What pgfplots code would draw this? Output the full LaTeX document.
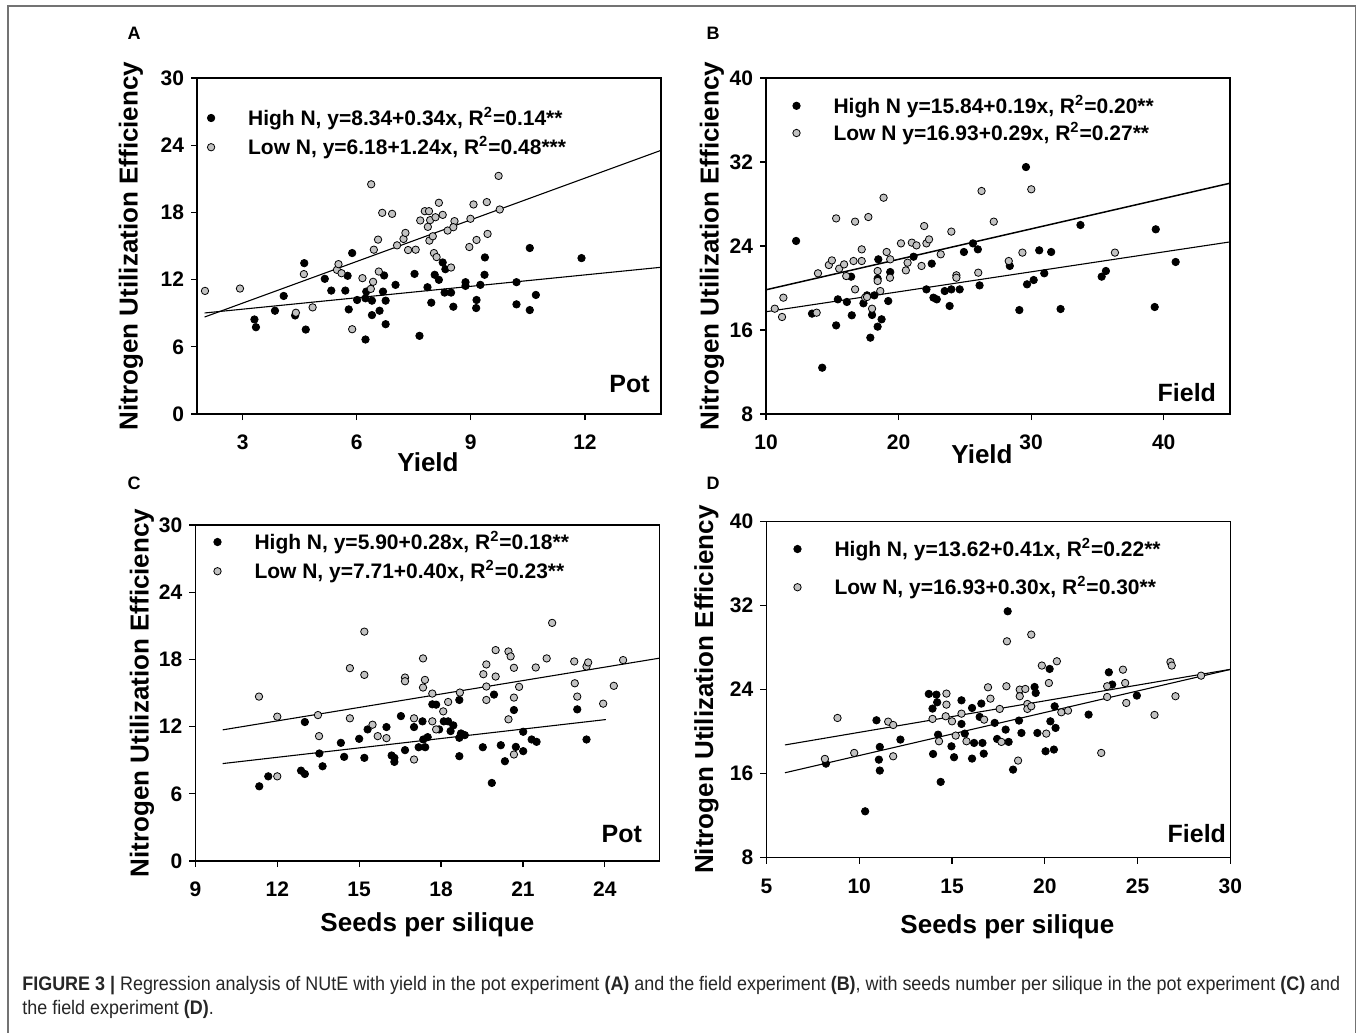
\documentclass[border=0pt]{standalone}
\usepackage{pgfplots}
\pgfplotsset{compat=1.18}
\usepackage{fontspec}
\setmainfont{Liberation Sans}
\newfontfamily\capfont[FakeStretch=0.915]{Liberation Sans}

\definecolor{lowgray}{gray}{0.76}
\definecolor{framegray}{gray}{0.45}

\pgfplotsset{
  nue/.style={
    scale only axis, width=232pt, height=168pt,
    axis line style={black, line width=0.6pt},
    tick align=outside, xtick pos=bottom, ytick pos=left,
    major tick length=3pt, tick style={black, line width=0.6pt},
    /pgf/number format/assume math mode=true,
    tick label style={font=\fontsize{10.5}{12}\selectfont\bfseries},
    xticklabel style={yshift=-4pt},
    legend style={draw=none, fill=none, font=\fontsize{10.5}{12}\selectfont\bfseries,
      anchor=north west, at={(0,1)}},
    legend cell align=left,
    legend image code/.code={\path[draw=none,fill=none] (0pt,0pt) -- (16.5pt,0pt); \draw[##1] plot coordinates {(0pt,0pt)};},
  },
  ylab/.style={every axis y label/.style={at={([xshift=#1]axis description cs:0,0.5)}, rotate=90, anchor=center,
    font=\fontsize{13}{15}\selectfont\bfseries}},
  xlab/.style 2 args={every axis x label/.style={at={([xshift=#1,yshift=#2]axis description cs:0.5,0)}, anchor=base,
    font=\fontsize{13}{15}\selectfont\bfseries}},
  high/.style={only marks, mark=*, mark size=1.85pt, mark options={fill=black, draw=black}},
  low/.style={only marks, mark=*, mark size=1.85pt, mark options={fill=lowgray, draw=black, line width=0.4pt}},
  fit/.style={black, line width=0.55pt, no marks, forget plot},
}

\begin{document}
\begin{tikzpicture}
\useasboundingbox (0pt,0pt) rectangle (680pt,-516.5pt);
\fill[white] (0pt,0pt) rectangle (680pt,-516.5pt);
\draw[framegray, line width=0.7pt] (4pt,-516.5pt) -- (4pt,-3pt) -- (677.7pt,-3pt) -- (677.7pt,-516.5pt);

% ---------- A : NUtE vs yield, pot
\begin{axis}[nue, at={(98.5pt,-207pt)}, anchor=south west,
  xmin=1.8, xmax=14, ymin=0, ymax=30,
  xtick={3,6,9,12}, ytick={0,6,12,18,24,30},
  xlabel={Yield}, ylabel={Nitrogen Utilization Efficiency},
  ylab=-33pt, xlab={-0.5pt}{-28.5pt},
  legend style={xshift=2pt, yshift=-10.5pt},
]
\addplot[high] coordinates {
(3.31,8.44) (3.35,7.75) (3.85,9.22) (4.08,10.54) (4.38,8.80) (4.62,13.47) (4.66,7.54)
(5.16,12.07) (5.33,11.02) (5.70,11.02) (5.76,12.34) (5.79,9.34) (5.88,14.37) (6.01,10.18)
(6.23,10.33) (6.25,10.93) (6.23,6.65) (6.40,10.12) (6.40,8.83) (6.60,9.22) (6.69,10.93)
(6.72,12.37) (6.76,10.12) (6.76,8.02) (7.02,11.53) (7.52,12.51) (7.65,6.98) (7.86,11.32)
(7.96,9.94) (8.05,12.43) (8.16,11.98) (8.26,13.53) (8.33,12.93) (8.31,10.84) (8.48,10.84)
(8.54,9.58) (8.86,11.77) (8.86,11.44) (9.15,10.18) (9.14,9.46) (9.25,11.53) (9.36,12.43)
(9.37,13.98) (10.20,11.77) (10.20,9.79) (10.55,14.82) (10.55,9.28) (10.71,10.63) (11.91,13.92)
};
\addlegendentry{High N, y=8.34+0.34x, R\textsuperscript{2}=0.14**}
\addplot[low] coordinates {
(2.01,10.99) (2.93,11.20) (4.40,9.04) (4.61,12.49) (4.84,9.52) (5.48,12.87) (5.52,13.38)
(5.60,12.57) (5.88,7.57) (6.15,12.13) (6.38,20.51) (6.43,11.80) (6.37,11.17) (6.45,14.67)
(6.56,15.57) (6.58,12.72) (6.67,17.96) (6.93,17.87) (7.06,15.06) (7.23,15.63) (7.28,16.17)
(7.35,14.64) (7.55,14.67) (7.67,17.28) (7.79,18.11) (7.90,18.11) (7.87,16.71) (7.93,17.31)
(7.91,15.48) (8.00,15.87) (8.07,17.57) (8.16,18.86) (8.26,17.78) (8.03,14.37) (8.10,14.01)
(8.39,16.38) (8.57,17.22) (8.54,16.68) (8.48,13.08) (8.96,14.91) (8.99,17.43) (9.07,18.71)
(9.15,15.54) (9.42,18.92) (9.44,16.08) (9.73,21.26) (9.76,18.26)
};
\addlegendentry{Low N, y=6.18+1.24x, R\textsuperscript{2}=0.48***}
\addplot[fit] coordinates {(2.0,9.02) (14,13.10)};
\addplot[fit] coordinates {(2.0,8.66) (14,23.54)};
\node[font=\fontsize{12.5}{14}\selectfont\bfseries, anchor=south east, inner sep=0pt]
  at ([xshift=-5.5pt,yshift=10.5pt]rel axis cs:1,0) {Pot};
\end{axis}

% ---------- B : NUtE vs yield, field
\begin{axis}[nue, at={(383pt,-207pt)}, anchor=south west,
  xmin=10, xmax=45, ymin=8, ymax=40,
  xtick={10,20,30,40}, ytick={8,16,24,32,40},
  xlabel={Yield}, ylabel={Nitrogen Utilization Efficiency},
  ylab=-27pt, xlab={-8pt}{-24.5pt},
  legend style={xshift=10.2pt, yshift=-4.4pt, /tikz/row sep=-1pt},
]
\addplot[high] coordinates {
(12.27,24.48) (14.24,12.41) (13.47,17.56) (15.29,16.44) (15.42,18.92) (16.10,18.67) (16.42,21.08)
(16.47,17.40) (17.35,18.54) (17.62,19.30) (17.87,15.27) (18.00,17.43) (18.17,19.30) (18.42,16.32)
(18.47,22.73) (18.42,20.89) (18.72,17.02) (19.22,18.76) (19.37,21.52) (21.13,22.98) (22.10,19.87)
(22.50,22.32) (22.63,19.08) (22.88,18.92) (23.48,19.71) (23.85,18.29) (23.98,19.87) (24.61,19.87)
(24.93,23.43) (25.61,24.25) (25.98,23.68) (26.11,20.25) (28.39,22.10) (29.11,17.90) (29.61,31.52)
(29.69,20.35) (30.19,20.76) (30.61,23.59) (30.99,21.40) (31.51,23.43) (32.22,18.00) (33.72,26.00)
(35.32,21.08) (35.64,21.62) (39.40,25.59) (39.32,18.19) (40.90,22.48)
};
\addlegendentry{High N y=15.84+0.19x, R\textsuperscript{2}=0.20**}
\addplot[low] coordinates {
(10.66,18.03) (11.21,17.24) (11.31,19.08) (13.82,17.65) (13.92,21.40) (14.74,22.19) (14.97,22.63)
(15.29,26.63) (15.52,21.84) (15.89,22.25) (16.05,21.14) (16.60,22.57) (16.72,26.32) (16.72,19.87)
(17.22,23.68) (17.22,22.57) (17.47,19.08) (17.62,19.14) (17.72,26.76) (18.00,18.03) (18.42,21.62)
(18.42,20.67) (18.62,19.71) (18.87,28.60) (19.10,23.43) (19.37,22.73) (19.35,20.98) (20.18,24.25)
(20.55,21.68) (20.68,22.41) (21.00,24.32) (21.35,24.06) (21.73,22.10) (21.93,25.90) (22.10,24.25)
(22.30,24.63) (23.18,23.21) (23.98,25.37) (24.36,21.21) (24.36,20.98) (26.01,21.46) (26.26,29.24)
(27.18,26.32) (28.31,22.57) (29.34,23.37) (30.01,29.40) (36.32,23.37)
};
\addlegendentry{Low N y=16.93+0.29x, R\textsuperscript{2}=0.27**}
\addplot[fit] coordinates {(10,17.74) (45,24.39)};
\addplot[fit, line width=0.75pt] coordinates {(10,19.83) (45,29.98)};
\node[font=\fontsize{12.5}{14}\selectfont\bfseries, anchor=south east, inner sep=0pt]
  at ([xshift=-6.8pt,yshift=6pt]rel axis cs:1,0) {Field};
\end{axis}

% ---------- C : NUtE vs seeds per silique, pot
\begin{axis}[nue, at={(97.7pt,-430.5pt)}, anchor=south west,
  xmin=9, xmax=26, ymin=0, ymax=30,
  xtick={9,12,15,18,21,24}, ytick={0,6,12,18,24,30},
  xlabel={Seeds per silique}, ylabel={Nitrogen Utilization Efficiency},
  ylab=-26.7pt, xlab={0pt}{-35pt},
  legend style={xshift=6pt, yshift=1pt},
]
\addplot[high] coordinates {
(11.34,6.67) (11.67,7.56) (12.87,8.07) (13.01,12.41) (13.01,7.77) (13.54,9.60) (13.66,8.46)
(14.33,10.55) (14.45,9.30) (15.00,10.91) (15.19,9.21) (15.31,11.75) (16.00,11.96) (16.19,9.42)
(16.29,9.21) (16.29,8.85) (16.53,12.94) (16.68,9.90) (17.01,11.96) (17.18,10.16) (17.32,12.47)
(17.35,10.85) (17.42,10.16) (17.51,11.06) (17.68,13.99) (17.82,13.96) (17.93,11.75) (18.10,12.47)
(18.26,12.47) (18.35,11.60) (18.45,12.11) (18.67,14.38) (18.67,11.00) (18.67,9.36) (18.73,11.39)
(18.87,11.24) (19.53,10.16) (19.86,6.97) (19.94,14.86) (20.19,10.34) (20.34,8.91) (20.67,13.48)
(20.74,10.19) (21.01,11.54) (21.01,9.81) (21.32,10.85) (21.50,10.64) (22.99,13.54) (23.33,10.85)
};
\addlegendentry{High N, y=5.90+0.28x, R\textsuperscript{2}=0.18**}
\addplot[low] coordinates {
(11.33,14.68) (12.00,12.89) (12.00,7.56) (13.49,13.03) (13.53,11.15) (14.66,17.22) (14.66,12.74)
(15.19,20.48) (15.19,16.62) (15.49,12.17) (15.68,11.15) (16.00,10.97) (16.68,16.38) (16.68,16.05)
(17.01,12.74) (17.01,9.06) (17.34,18.09) (17.41,16.17) (17.34,15.49) (17.68,14.95) (17.68,12.47)
(17.82,11.75) (18.08,13.36) (18.26,14.20) (18.69,15.04) (19.55,16.68) (19.66,17.55) (19.66,15.58)
(19.66,14.38) (20.00,18.83) (20.00,16.47) (20.47,18.71) (20.55,18.27) (20.67,17.25) (20.67,14.59)
(20.47,12.65) (20.86,15.55) (20.67,9.51) (21.47,17.28) (21.87,18.09) (22.07,21.26) (22.88,17.82)
(22.90,15.87) (22.99,14.68) (23.33,17.37) (23.39,17.73) (23.94,14.05) (24.33,15.64) (24.67,17.94)
};
\addlegendentry{Low N, y=7.71+0.40x, R\textsuperscript{2}=0.23**}
\addplot[fit] coordinates {(10,11.71) (26,18.11)};
\addplot[fit] coordinates {(10,8.70) (24.04,12.63)};
\node[font=\fontsize{12.5}{14}\selectfont\bfseries, anchor=south east, inner sep=0pt]
  at ([xshift=-8.5pt,yshift=9pt]rel axis cs:1,0) {Pot};
\end{axis}

% ---------- D : NUtE vs seeds per silique, field
\begin{axis}[nue, at={(383.2pt,-428.8pt)}, anchor=south west,
  xmin=5, xmax=30, ymin=8, ymax=40,
  xtick={5,10,15,20,25,30}, ytick={8,16,24,32,40},
  xlabel={Seeds per silique}, ylabel={Nitrogen Utilization Efficiency},
  ylab=-30pt, xlab={4.5pt}{-37.7pt},
  legend style={xshift=10.5pt, yshift=-4.2pt, /tikz/row sep=4.5pt},
]
\addplot[high] coordinates {
(8.21,16.95) (10.32,12.41) (10.93,21.08) (11.11,18.54) (11.06,17.33) (11.11,16.29) (12.22,19.24)
(13.75,23.59) (14.16,23.52) (14.20,22.79) (13.95,22.19) (14.25,19.71) (13.98,17.87) (14.39,15.21)
(14.97,18.60) (15.11,17.56) (15.51,22.98) (15.51,20.73) (15.69,19.81) (16.08,22.25) (16.08,17.43)
(16.19,18.92) (16.58,22.67) (16.49,21.40) (16.64,18.92) (16.71,17.90) (17.30,20.83) (17.43,19.30)
(17.89,20.19) (18.05,19.02) (18.29,16.38) (18.00,31.46) (18.61,21.05) (18.74,19.87) (19.45,24.25)
(19.51,23.68) (19.60,19.87) (20.04,18.13) (20.26,25.97) (20.30,20.98) (20.53,22.41) (20.49,18.29)
(20.58,20.35) (22.36,21.62) (23.45,25.65) (23.63,24.48) (24.96,23.43)
};
\addlegendentry{High N, y=13.62+0.41x, R\textsuperscript{2}=0.22**}
\addplot[low] coordinates {
(8.15,17.40) (8.83,21.30) (9.73,17.97) (11.56,20.95) (11.83,20.63) (11.83,17.65) (13.95,21.21)
(14.30,19.08) (14.70,23.62) (14.70,22.57) (14.66,21.46) (15.00,20.98) (15.20,19.62) (15.51,21.71)
(15.78,19.08) (16.73,21.14) (16.94,24.22) (17.07,23.14) (17.57,22.16) (17.66,19.02) (17.93,24.32)
(17.96,28.60) (18.56,17.24) (18.65,24.00) (18.65,23.37) (18.95,24.06) (19.06,22.63) (19.06,22.16)
(19.27,22.41) (19.27,29.24) (19.84,26.29) (20.08,19.81) (20.22,24.63) (20.65,26.70) (20.89,21.84)
(21.25,22.00) (23.04,17.97) (23.36,24.32) (23.36,23.30) (24.21,25.90) (24.33,24.63) (24.39,22.73)
(25.91,21.59) (26.77,26.63) (26.84,26.29) (27.04,23.37) (28.42,25.33)
};
\addlegendentry{Low N, y=16.93+0.30x, R\textsuperscript{2}=0.30**}
\addplot[fit] coordinates {(6,16.08) (30,25.92)};
\addplot[fit] coordinates {(6,18.73) (30,25.93)};
\node[font=\fontsize{12.5}{14}\selectfont\bfseries, anchor=south east, inner sep=0pt]
  at ([xshift=-2pt,yshift=7pt]rel axis cs:1,0) {Field};
\end{axis}

% panel letters
\node[font=\fontsize{9}{10}\selectfont\bfseries] at (67pt,-16.5pt) {A};
\node[font=\fontsize{9}{10}\selectfont\bfseries] at (356.5pt,-16.5pt) {B};
\node[font=\fontsize{9}{10}\selectfont\bfseries] at (67pt,-241.5pt) {C};
\node[font=\fontsize{9}{10}\selectfont\bfseries] at (356.5pt,-241.5pt) {D};

% caption
\node[anchor=base west, inner sep=0pt, font=\capfont\fontsize{9.8}{12}\selectfont, text=black!85]
  at (11pt,-495pt) {\textbf{FIGURE 3 |} Regression analysis of NUtE with yield in the pot experiment \textbf{(A)} and the field experiment \textbf{(B)}, with seeds number per silique in the pot experiment \textbf{(C)} and};
\node[anchor=base west, inner sep=0pt, font=\capfont\fontsize{9.8}{12}\selectfont, text=black!85]
  at (11pt,-507pt) {the field experiment \textbf{(D)}.};
\end{tikzpicture}
\end{document}
